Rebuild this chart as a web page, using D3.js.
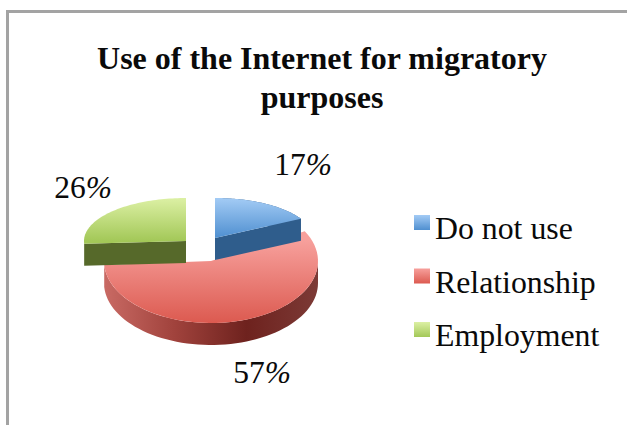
<!DOCTYPE html>
<html>
<head>
<meta charset="utf-8">
<script src="https://cdn.jsdelivr.net/npm/d3@7"></script>
<style>
html,body{margin:0;padding:0;background:#fff}
svg{display:block}
text{font-family:"Liberation Serif","Times New Roman",serif;fill:#0a0a0a}
</style>
</head>
<body>
<svg id="chart" width="627" height="425"></svg>
<script>
const categories = ["Do not use", "Relationship", "Employment"];
const shares = [17, 57, 26];
const titleLines = ["Use of the Internet for migratory", "purposes"];

const topColors = [["#a3cbf5", "#4f8fd0"], ["#f7a09c", "#dc5a50"], ["#dcf0a4", "#a3c858"]];
const sideColors = [["#2f5d8c", "#3a628c"], ["#c96a64", "#a0423c", "#6e221e", "#7c3a36"], ["#5b6e2a", "#56692a"]];

// Each wedge has its own exploded centre and ellipse
const wedgeGeometry = [
  { cx: 215, cy: 238, rx: 98, ry: 40, shadeFrom: 198, shadeTo: 238 },
  { cx: 211, cy: 261, rx: 107, ry: 62, shadeFrom: 240, shadeTo: 323 },
  { cx: 186, cy: 241, rx: 102, ry: 43, shadeFrom: 198, shadeTo: 241 }
];
const depth = 22;

const svg = d3.select("#chart");
const defs = svg.append("defs");

// Frame: only the top and left edges are visible
svg.append("path").attr("d", "M7.5,425V11.5H627").attr("fill", "none").attr("stroke", "#a3a3a3").attr("stroke-width", 3);

svg.selectAll("text.title").data(titleLines).join("text")
  .attr("class", "title").attr("x", 322).attr("y", (d, i) => 69 + i * 39)
  .attr("text-anchor", "middle").attr("font-size", 32).attr("font-weight", "bold").text(d => d);

const arcs = d3.pie().sort(null).value(d => d)(shares);

topColors.forEach((c, i) => {
  const w = wedgeGeometry[i];
  const g = defs.append("linearGradient").attr("id", "top" + i)
    .attr("gradientUnits", "userSpaceOnUse")
    .attr("x1", 0).attr("x2", 0).attr("y1", w.shadeFrom).attr("y2", w.shadeTo);
  c.forEach((col, k) => g.append("stop").attr("offset", k / (c.length - 1)).attr("stop-color", col));
});
sideColors.forEach((c, i) => {
  const w = wedgeGeometry[i];
  const g = defs.append("linearGradient").attr("id", "side" + i)
    .attr("gradientUnits", "userSpaceOnUse")
    .attr("x1", w.cx - w.rx).attr("x2", w.cx + w.rx).attr("y1", 0).attr("y2", 0);
  c.forEach((col, k) => g.append("stop").attr("offset", k / (c.length - 1)).attr("stop-color", col));
});

const onEllipse = (w, a, dy = 0) => [w.cx + w.rx * Math.sin(a), w.cy - w.ry * Math.cos(a) + dy];
const line = d3.line();
const sweep = (a0, a1) => d3.range(0, 61).map(k => a0 + (a1 - a0) * k / 60);

// The red wedge goes in its own group underneath so the others overlap it
const pieG = svg.append("g");
const drawOrder = [1, 0, 2];

drawOrder.forEach(i => {
  const a = arcs[i];
  const w = wedgeGeometry[i];
  const g = pieG.append("g").attr("class", "wedge");
  const rimFrom = Math.max(a.startAngle, Math.PI / 2 * (i === 0 ? 0 : 1));
  const rimTo = Math.min(a.endAngle, Math.PI * 1.5);
  // Rim wall along the front of the ellipse
  if (rimTo > rimFrom) {
    const outer = sweep(rimFrom, rimTo).map(t => onEllipse(w, t));
    const lower = sweep(rimTo, rimFrom).map(t => onEllipse(w, t, depth));
    g.append("path").attr("d", line(outer.concat(lower)) + "Z").attr("fill", `url(#side${i})`);
  }
  // Cut faces of the two smaller wedges
  if (i === 0) {
    const p = onEllipse(w, a.endAngle);
    g.append("path").attr("d", line([[w.cx, w.cy], p, [p[0], p[1] + depth], [w.cx, w.cy + depth]]) + "Z").attr("fill", "#2f5d8c");
  }
  if (i === 2) {
    const p = onEllipse(w, a.startAngle);
    g.append("path").attr("d", line([p, [w.cx, w.cy], [w.cx, w.cy + depth], [p[0], p[1] + depth]]) + "Z").attr("fill", "#56692a");
  }
  const top = sweep(a.startAngle, a.endAngle).map(t => onEllipse(w, t));
  g.append("path").attr("d", line([[w.cx, w.cy], ...top]) + "Z").attr("fill", `url(#top${i})`);
});

const labelPos = [[303, 175], [262, 383], [83, 198]];
const pct = svg.selectAll("text.pct").data(shares).join("text")
  .attr("class", "pct")
  .attr("x", (d, i) => labelPos[i][0]).attr("y", (d, i) => labelPos[i][1])
  .attr("text-anchor", "middle").attr("font-size", 31.5);
pct.append("tspan").text(d => d);
pct.append("tspan").attr("font-style", "italic").text("%");

const legendY = d3.scalePoint().domain(categories).range([229, 336]);
const legend = svg.selectAll("g.legend").data(categories).join("g").attr("class", "legend")
  .attr("transform", d => `translate(414,${legendY(d)})`);
topColors.forEach((c, i) => {
  const g = defs.append("linearGradient").attr("id", "key" + i).attr("x1", 0).attr("x2", 0).attr("y1", 0).attr("y2", 1);
  c.forEach((col, k) => g.append("stop").attr("offset", k).attr("stop-color", col));
});
legend.append("rect").attr("x", 0).attr("y", -14).attr("width", 16).attr("height", 15).attr("fill", (d, i) => `url(#key${i})`);
legend.append("text").attr("x", 21).attr("y", 10).attr("font-size", 31.8).text(d => d);
</script>
</body>
</html>
